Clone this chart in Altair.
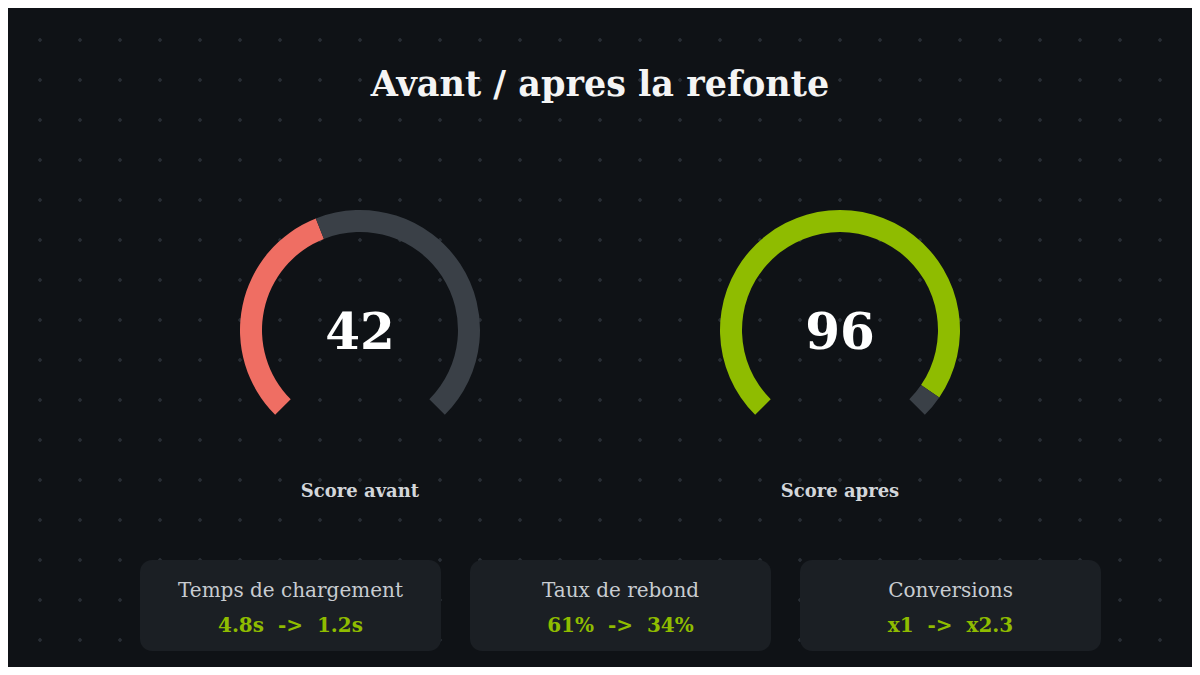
import altair as alt
import numpy as np
import pandas as pd
import math

# ---------------- data ----------------
title_text = "Avant / apres la refonte"
gauge_labels = ["Score avant", "Score apres"]
gauge_scores = [42, 96]
gauge_colors = ["#ef6e63", "#8fbc00"]
track_color = "#3a4047"

card_labels = ["Temps de chargement", "Taux de rebond", "Conversions"]
card_before = ["4.8s", "61%", "x1"]
card_after = ["1.2s", "34%", "x2.3"]

# ---------------- layout ----------------
OFF = 8
W, H = 1184, 659
BG = "#0f1216"
CARD = "#1b1f24"
FONT = "DejaVu Serif"

gauge_cx = [360, 840]
gauge_cy = 330
R_OUT, R_IN = 120, 98
card_x = [140, 470, 800]
card_w = 301
card_y0, card_y1 = 560, 651


def px(v):
    return v - OFF


xs = alt.Scale(domain=[OFF, OFF + W], range=[0, W])
ys = alt.Scale(domain=[OFF, OFF + H], range=[0, H])

# dot grid (decorative background)
gx, gy = np.meshgrid(np.arange(40, 1161, 40), np.arange(40, 641, 40))
dots_df = pd.DataFrame({"x": gx.ravel(), "y": gy.ravel()})
dots = alt.Chart(dots_df).mark_point(
    shape="cross", filled=True, size=16, color="#2b3037", opacity=1, strokeWidth=0
).encode(
    x=alt.X("x:Q", scale=xs, axis=None),
    y=alt.Y("y:Q", scale=ys, axis=None),
)

# cards
cards_df = pd.DataFrame({
    "label": card_labels,
    "x0": card_x,
    "x1": [c + card_w for c in card_x],
    "y0": [card_y0] * 3,
    "y1": [card_y1] * 3,
    "value": [f"{b} \u00a0->\u00a0 {a}" for b, a in zip(card_before, card_after)],
    "cx": [c + card_w / 2 for c in card_x],
})
cards = alt.Chart(cards_df).mark_rect(cornerRadius=12, color=CARD).encode(
    x=alt.X("x0:Q", scale=xs, axis=None), x2="x1:Q",
    y=alt.Y("y0:Q", scale=ys, axis=None), y2="y1:Q",
)
card_lab = alt.Chart(cards_df).mark_text(
    font=FONT, fontSize=20, color="#c8ccd1", align="center", baseline="alphabetic"
).encode(
    x=alt.X("cx:Q", scale=xs, axis=None),
    y=alt.value(px(597)),
    text="label:N",
)
card_val = alt.Chart(cards_df).mark_text(
    font=FONT, fontSize=20, fontWeight="bold", color="#8fbc00", align="center", baseline="alphabetic"
).encode(
    x=alt.X("cx:Q", scale=xs, axis=None),
    y=alt.value(px(632)),
    text="value:N",
)

theta_scale = alt.Scale(domain=[0, 100], range=[5 * math.pi / 4, 11 * math.pi / 4], nice=False, zero=False)

layers = [dots, cards, card_lab, card_val]

for lab, score, col, cx in zip(gauge_labels, gauge_scores, gauge_colors, gauge_cx):
    seg = pd.DataFrame({
        "start": [0, score],
        "end": [score, 100],
        "col": [col, track_color],
    })
    arc = alt.Chart(seg).mark_arc(radius=R_OUT, radius2=R_IN).encode(
        theta=alt.Theta("start:Q", scale=theta_scale, stack=False),
        theta2="end:Q",
        color=alt.Color("col:N", scale=None),
        x=alt.value(px(cx)),
        y=alt.value(px(gauge_cy)),
    )
    tdf = pd.DataFrame({"score": [str(score)], "label": [lab]})
    num = alt.Chart(tdf).mark_text(
        font=FONT, fontSize=50, fontWeight="bold", color="#ffffff", align="center", baseline="alphabetic"
    ).encode(x=alt.value(px(cx)), y=alt.value(px(349)), text="score:N")
    lbl = alt.Chart(tdf).mark_text(
        font=FONT, fontSize=18, fontWeight="bold", color="#d3d6da", align="center", baseline="alphabetic"
    ).encode(x=alt.value(px(cx)), y=alt.value(px(497)), text="label:N")
    layers += [arc, num, lbl]

title = alt.Chart(pd.DataFrame({"t": [title_text]})).mark_text(
    font=FONT, fontSize=35, fontWeight="bold", color="#f4f4f4", align="center", baseline="alphabetic"
).encode(x=alt.value(px(600)), y=alt.value(px(96)), text="t:N")
layers.append(title)

chart = alt.layer(*layers).properties(
    width=W, height=H,
    autosize=alt.AutoSizeParams(type="none"),
    padding=0,
    background=BG,
).configure_view(stroke=None)

chart.save("out.html", embed_options={"renderer": "svg", "actions": False})
